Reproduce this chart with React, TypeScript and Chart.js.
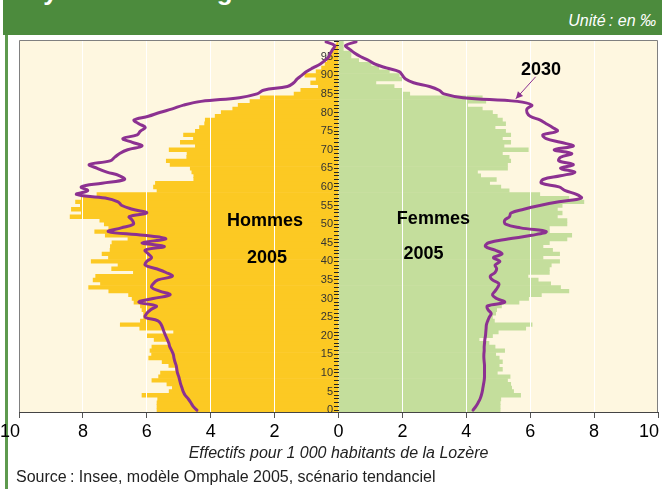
import React, { useEffect, useRef } from 'react';
import { Chart, registerables } from 'chart.js';

Chart.register(...registerables);

const AGES = [
  '0','1','2','3','4','5','6','7','8','9',
  '10','11','12','13','14','15','16','17','18','19',
  '20','21','22','23','24','25','26','27','28','29',
  '30','31','32','33','34','35','36','37','38','39',
  '40','41','42','43','44','45','46','47','48','49',
  '50','51','52','53','54','55','56','57','58','59',
  '60','61','62','63','64','65','66','67','68','69',
  '70','71','72','73','74','75','76','77','78','79',
  '80','81','82','83','84','85','86','87','88','89',
  '90','91','92','93','94','95','96','97','98','99',
];

// Effectifs pour 1 000 habitants, par âge (0 à 99 ans)
const HOMMES_2005 = [
  5.68, 5.68, 5.68, 5.66, 6.15, 5.3, 5.2, 5.37, 5.84, 5.63,
  5.57, 5.1, 5.31, 5.52, 5.94, 5.85, 5.9, 5.84, 5.27, 5.77,
  6.0, 5.16, 6.22, 6.83, 6.2, 6.1, 6.1, 6.15, 6.2, 6.4,
  6.46, 6.57, 7.19, 7.82, 7.45, 7.68, 7.6, 6.42, 7.1, 6.9,
  7.74, 7.2, 7.4, 7.15, 7.14, 7.09, 6.59, 7.3, 7.63, 7.19,
  7.33, 7.47, 8.4, 8.05, 8.36, 8.08, 8.23, 8.05, 7.56, 5.68,
  5.79, 5.73, 4.53, 4.53, 4.59, 4.64, 5.27, 5.39, 4.75, 4.74,
  5.3, 4.48, 4.95, 4.54, 4.85, 4.48, 4.35, 4.19, 4.17, 3.86,
  3.67, 3.31, 3.14, 2.77, 2.45, 1.39, 1.18, 0.63, 0.87, 0.7,
  1.05, 0.7, 0.53, 0.42, 0.35, 0.28, 0.2, 0.15, 0.08, 0.05,
];

const FEMMES_2005 = [
  5.06, 5.06, 5.06, 5.08, 5.7, 5.48, 5.42, 5.39, 5.29, 5.37,
  4.97, 5.13, 5.03, 5.13, 5.03, 4.92, 5.2, 4.9, 4.71, 4.4,
  4.82, 5.0, 5.86, 6.06, 4.88, 4.82, 4.92, 4.95, 5.1, 5.65,
  5.95, 6.35, 7.21, 6.95, 6.64, 6.25, 5.93, 6.6, 6.6, 6.66,
  6.92, 6.4, 6.92, 6.7, 6.4, 6.6, 7.15, 7.3, 6.6, 6.6,
  7.15, 7.15, 6.85, 7.0, 6.85, 7.0, 7.68, 7.21, 6.3, 5.34,
  5.08, 4.73, 4.94, 4.45, 4.35, 5.29, 5.29, 5.39, 5.34, 5.13,
  5.94, 5.18, 5.39, 5.13, 5.39, 5.23, 4.9, 5.23, 5.13, 4.97,
  4.82, 4.5, 4.04, 4.61, 4.5, 2.23, 2.0, 1.74, 1.17, 2.0,
  1.9, 1.59, 1.26, 1.02, 0.63, 0.39, 0.39, 0.15, 0.15, 0.15,
];

const HOMMES_2030 = [
  4.43, 4.55, 4.62, 4.7, 4.8, 4.86, 4.9, 4.94, 4.97, 5.0,
  5.04, 5.06, 5.08, 5.12, 5.15, 5.17, 5.22, 5.28, 5.31, 5.36,
  5.41, 5.46, 5.5, 5.55, 5.65, 6.05, 6.0, 5.88, 5.7, 6.25,
  5.8, 5.27, 5.6, 5.85, 5.8, 5.65, 5.2, 5.4, 5.7, 6.05,
  6.0, 5.85, 5.95, 6.05, 5.45, 6.15, 5.4, 6.1, 7.2, 6.8,
  6.42, 6.45, 6.55, 6.0, 6.45, 6.78, 6.9, 7.3, 8.2, 7.85,
  8.05, 7.4, 6.7, 6.85, 7.25, 7.55, 7.8, 7.15, 7.0, 6.85,
  6.6, 6.15, 6.45, 6.75, 6.3, 6.2, 6.05, 6.25, 6.4, 5.95,
  5.6, 5.2, 4.85, 4.3, 3.1, 2.55, 2.35, 1.6, 1.4, 1.3,
  1.15, 1.0, 0.8, 0.58, 0.42, 0.3, 0.25, 0.18, 0.12, 0.39,
];

const FEMMES_2030 = [
  4.21, 4.3, 4.37, 4.43, 4.47, 4.5, 4.52, 4.54, 4.56, 4.57,
  4.57, 4.57, 4.57, 4.56, 4.55, 4.55, 4.56, 4.56, 4.57, 4.58,
  4.6, 4.61, 4.62, 4.63, 4.67, 4.72, 4.78, 4.68, 4.66, 5.2,
  4.95, 4.82, 4.9, 4.98, 5.02, 4.82, 4.75, 4.9, 4.95, 4.9,
  5.05, 4.85, 5.12, 4.9, 4.6, 4.7, 5.3, 6.05, 6.5, 5.7,
  5.23, 5.2, 5.35, 5.4, 5.8, 6.3, 6.9, 7.6, 7.45, 7.1,
  6.9, 6.35, 6.4, 6.95, 7.4, 6.95, 7.35, 6.9, 6.95, 7.3,
  6.75, 7.35, 6.95, 6.5, 6.4, 6.85, 6.7, 6.5, 6.3, 6.0,
  5.9, 5.9, 6.05, 5.6, 3.9, 3.3, 3.15, 2.85, 2.35, 2.1,
  2.0, 1.9, 1.5, 1.15, 0.95, 0.7, 0.5, 0.35, 0.22, 0.55,
];

const X_MIN = -10;
const X_MAX = 10;
const X_STEP = 2;

const FONT = '"Liberation Sans", Arial, Helvetica, sans-serif';
const YELLOW = '#FCC923';
const GREEN = '#C4DE9C';
const CREAM = '#FEF7E0';
const PURPLE = '#8C3191';
const HEADER = '#4C8B3D';

const areaPlugin = {
  id: 'areaPlugin',
  beforeDraw(chart: any) {
    const { ctx, chartArea: a } = chart;
    ctx.save();
    ctx.fillStyle = CREAM;
    ctx.fillRect(a.left, a.top, a.right - a.left, a.bottom - a.top);
    ctx.restore();
  },
  beforeDatasetDraw(chart: any, args: any) {
    const ds = chart.data.datasets[args.index];
    if (ds.type === 'line') return false;
    return true;
  },
  afterDraw(chart: any) {
    const { ctx, chartArea: a } = chart;
    // lines above the white grid
    chart.data.datasets.forEach((ds: any, i: number) => {
      if (ds.type !== 'line') return;
      const meta = chart.getDatasetMeta(i);
      ctx.save();
      ctx.beginPath();
      ctx.rect(a.left, a.top - 2, a.right - a.left, a.bottom - a.top + 4);
      ctx.clip();
      meta.controller.draw();
      ctx.restore();
    });
    // plot frame
    ctx.save();
    ctx.strokeStyle = '#808080';
    ctx.lineWidth = 1;
    ctx.beginPath();
    ctx.moveTo(Math.round(a.left) + 0.5, Math.round(a.bottom));
    ctx.lineTo(Math.round(a.left) + 0.5, Math.round(a.top) + 0.5);
    ctx.lineTo(Math.round(a.right) - 0.5, Math.round(a.top) + 0.5);
    ctx.lineTo(Math.round(a.right) - 0.5, Math.round(a.bottom));
    ctx.stroke();
    ctx.restore();

    // annotations
    const xs = chart.scales.x;
    const ys = chart.scales.y;
    ctx.save();
    ctx.fillStyle = '#000';
    ctx.textAlign = 'center';
    ctx.textBaseline = 'middle';
    ctx.font = `bold 18px ${FONT}`;
    ctx.fillText('Hommes', xs.getPixelForValue(-2.3), ys.getPixelForValue(50.8));
    ctx.fillText('2005', xs.getPixelForValue(-2.24), ys.getPixelForValue(40.85));
    ctx.fillText('Femmes', xs.getPixelForValue(2.97), ys.getPixelForValue(51.3));
    ctx.fillText('2005', xs.getPixelForValue(2.66), ys.getPixelForValue(41.9));
    ctx.fillText('2030', xs.getPixelForValue(6.34), ys.getPixelForValue(91.5));
    // arrow
    const x1 = xs.getPixelForValue(6.17), y1 = ys.getPixelForValue(89.6);
    const x2 = xs.getPixelForValue(5.55), y2 = ys.getPixelForValue(83.7);
    ctx.strokeStyle = PURPLE;
    ctx.fillStyle = PURPLE;
    ctx.lineWidth = 1;
    ctx.beginPath();
    ctx.moveTo(x1, y1);
    ctx.lineTo(x2, y2);
    ctx.stroke();
    const ang = Math.atan2(y2 - y1, x2 - x1);
    const hl = 7, hw = 3.5;
    ctx.beginPath();
    ctx.moveTo(x2, y2);
    ctx.lineTo(x2 - hl * Math.cos(ang) + hw * Math.sin(ang), y2 - hl * Math.sin(ang) - hw * Math.cos(ang));
    ctx.lineTo(x2 - hl * Math.cos(ang) - hw * Math.sin(ang), y2 - hl * Math.sin(ang) + hw * Math.cos(ang));
    ctx.closePath();
    ctx.fill();
    ctx.restore();
  },
};

export default function App() {
  const ref = useRef<HTMLCanvasElement>(null);

  useEffect(() => {
    const canvas = ref.current;
    if (!canvas) return;
    const chart = new Chart(canvas, {
      type: 'bar',
      data: {
        labels: AGES,
        datasets: [
          {
            type: 'bar',
            label: 'Hommes 2005',
            data: HOMMES_2005.map((v) => -v),
            backgroundColor: YELLOW,
            indexAxis: 'y',
            grouped: false,
            barPercentage: 1,
            categoryPercentage: 1,
            borderWidth: 0,
            xAxisID: 'x',
            yAxisID: 'y',
          },
          {
            type: 'bar',
            label: 'Femmes 2005',
            data: FEMMES_2005,
            backgroundColor: GREEN,
            indexAxis: 'y',
            grouped: false,
            barPercentage: 1,
            categoryPercentage: 1,
            borderWidth: 0,
            xAxisID: 'x',
            yAxisID: 'y',
          },
          {
            type: 'line',
            label: 'Hommes 2030',
            data: HOMMES_2030.map((v) => -v),
            borderColor: PURPLE,
            borderWidth: 3,
            pointRadius: 0,
            tension: 0.4,
            fill: false,
            indexAxis: 'y',
            borderJoinStyle: 'round',
            borderCapStyle: 'round',
            xAxisID: 'x',
            yAxisID: 'y',
          },
          {
            type: 'line',
            label: 'Femmes 2030',
            data: FEMMES_2030,
            borderColor: PURPLE,
            borderWidth: 3,
            pointRadius: 0,
            tension: 0.4,
            fill: false,
            indexAxis: 'y',
            borderJoinStyle: 'round',
            borderCapStyle: 'round',
            xAxisID: 'x',
            yAxisID: 'y',
          },
        ] as any,
      },
      options: {
        indexAxis: 'y',
        animation: false,
        responsive: false,
        maintainAspectRatio: false,
        devicePixelRatio: 1,
        layout: { padding: { left: 19, right: 4, top: 40, bottom: 22 } },
        plugins: { legend: { display: false }, tooltip: { enabled: false }, title: { display: false } },
        scales: {
          x: {
            type: 'linear',
            min: X_MIN,
            max: X_MAX,
            ticks: {
              stepSize: X_STEP,
              callback: (v: any) => {
                const n = Number(v);
                const s = String(Math.abs(n));
                // end labels sit slightly inside the frame, as in the original
                return n === X_MIN || n === X_MAX ? s + '\u2002\u2002' : s;
              },
              font: { family: FONT, size: 18 },
              color: '#000',
              padding: 3,
              maxRotation: 0,
            },
            grid: {
              color: (c: any) => {
                const v = c.tick ? c.tick.value : null;
                return v === 0 || v === X_MIN || v === X_MAX ? 'rgba(0,0,0,0)' : '#ffffff';
              },
              tickColor: '#555',
              tickLength: 6,
              lineWidth: 1,
              z: 1,
            },
            border: { color: '#444', width: 1, z: 1 },
            title: {
              display: true,
              text: 'Effectifs pour 1 000 habitants de la Lozère',
              font: { family: FONT, size: 16, style: 'italic' },
              color: '#222',
              padding: { top: 0, bottom: 4 },
            },
            afterFit: (s: any) => {
              s.height = 55;
              s.paddingLeft = 0;
              s.paddingRight = 0;
            },
          },
          y: {
            type: 'category',
            axis: 'y',
            position: { x: 0 },
            reverse: true,
            offset: true,
            grid: { drawOnChartArea: false, drawTicks: true, tickLength: 5, color: '#222', z: 1, offset: false },
            ticks: { display: false, autoSkip: false },
            border: { display: false },
            afterFit: (s: any) => {
              s.paddingTop = 0;
              s.paddingBottom = 0;
            },
          },
          yl: {
            type: 'category',
            axis: 'y',
            position: { x: -0.17 },
            reverse: true,
            offset: true,
            grid: { display: false },
            border: { display: false },
            ticks: {
              autoSkip: false,
              padding: 0,
              z: 1,
              color: '#333',
              font: { family: FONT, size: 11 },
              callback: (_v: any, i: number) => (i % 5 === 0 ? AGES[i] : ''),
            },
            afterFit: (s: any) => {
              s.paddingTop = 0;
              s.paddingBottom = 0;
            },
          },
        },
      } as any,
      plugins: [areaPlugin],
    });
    return () => chart.destroy();
  }, []);

  return (
    <div
      style={{
        position: 'fixed',
        left: 0,
        top: 0,
        width: 662,
        height: 489,
        background: '#fff',
        overflow: 'hidden',
        fontFamily: FONT,
      }}
    >
      <div
        style={{
          position: 'absolute',
          left: 3,
          top: 0,
          width: 659,
          height: 35,
          background: HEADER,
          overflow: 'hidden',
        }}
      >
        <div
          style={{
            position: 'absolute',
            left: 23,
            top: -22,
            fontSize: 26,
            lineHeight: '26px',
            fontWeight: 'bold',
            color: '#fff',
            whiteSpace: 'nowrap',
          }}
        >
          Pyramide des âges en 2005 et en 2030
        </div>
        <div
          style={{
            position: 'absolute',
            right: 6,
            top: 12,
            fontSize: 16,
            lineHeight: '18px',
            fontStyle: 'italic',
            color: '#fff',
            whiteSpace: 'nowrap',
          }}
        >
          Unité{'\u202F'}: en ‰
        </div>
      </div>
      <div style={{ position: 'absolute', left: 5, top: 35, width: 3, height: 454, background: '#5E9A4E' }} />
      <canvas
        ref={ref}
        width={662}
        height={489}
        style={{ position: 'absolute', left: 0, top: 0, width: 662, height: 489 }}
      />
      <div
        style={{
          position: 'absolute',
          left: 16,
          top: 468,
          fontSize: 16,
          lineHeight: '18px',
          color: '#222',
          whiteSpace: 'nowrap',
        }}
      >
        Source{'\u202F'}: Insee, modèle Omphale 2005, scénario tendanciel
      </div>
    </div>
  );
}
